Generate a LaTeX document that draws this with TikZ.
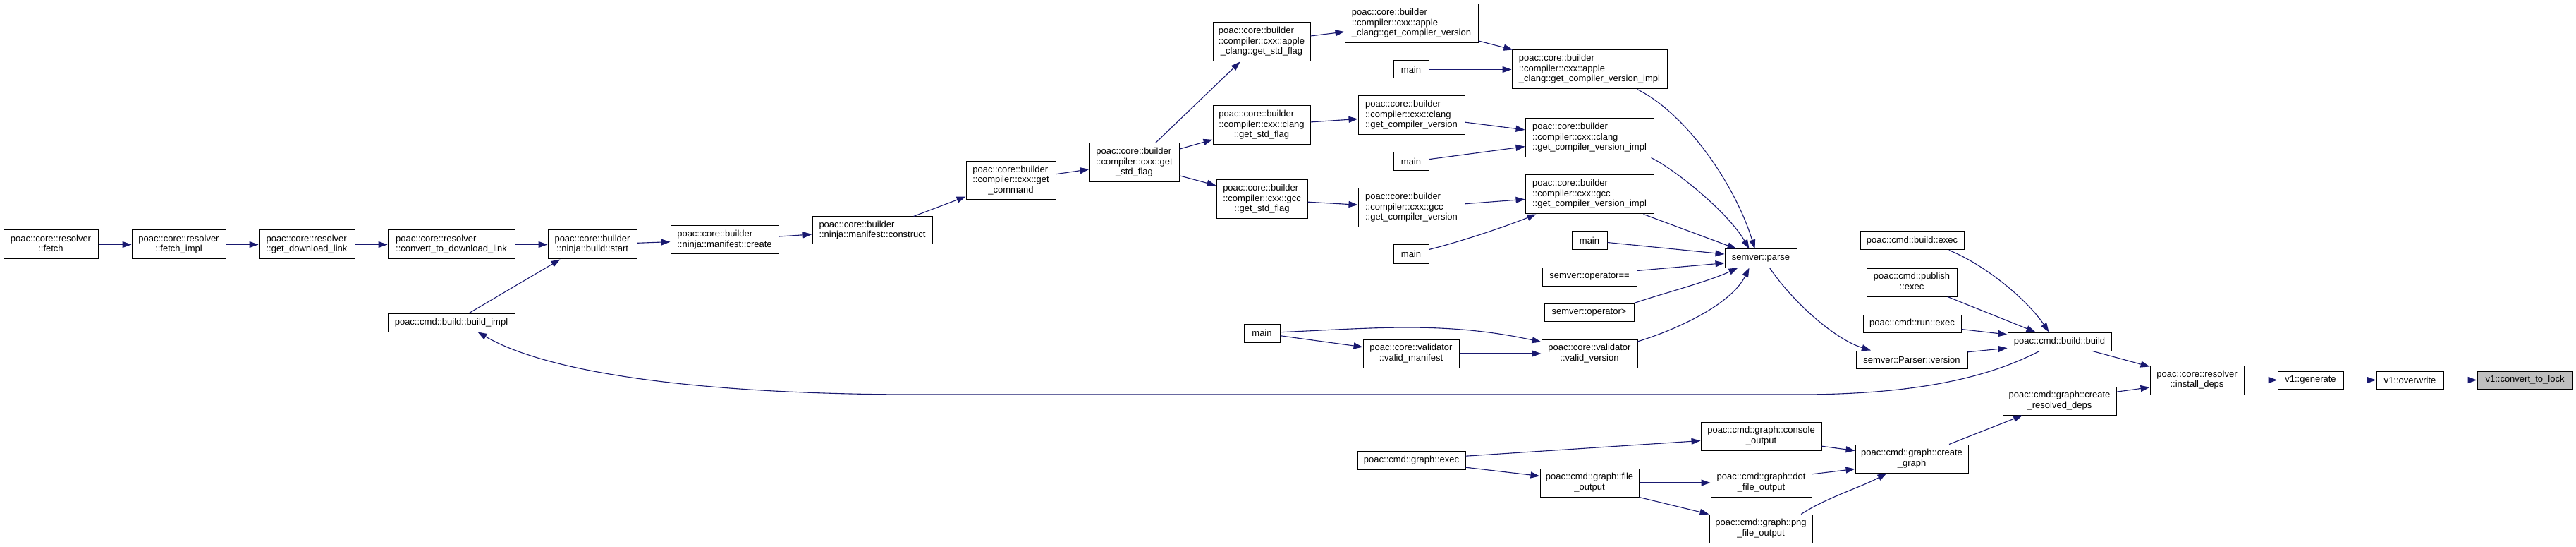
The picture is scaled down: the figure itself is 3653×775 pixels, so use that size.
\documentclass[tikz,border=0pt]{standalone}
\usepackage{fontspec}
\setmainfont{Liberation Sans}
\usetikzlibrary{arrows.meta,calc}
\definecolor{edgec}{HTML}{191970}
\definecolor{selfill}{HTML}{BFBFBF}
\newcommand\tl[2]{\begin{tabular}{@{}l@{}}#1\\\multicolumn{1}{@{}c@{}}{#2}\end{tabular}}
\newcommand\gnode[7][]{\node[gbox,#1,minimum width={(#5-#3)*1pt},minimum height={(#6-#4)*1pt}] (#2) at ({(#3+#5)/2},{(#4+#6)/2}) {#7};}
\tikzset{
  gbox/.style={draw=black,line width=1pt,fill=white,inner sep=0pt,text=black,font=\fontsize{13}{14.4}\selectfont},
  gedge/.style={draw=edgec,line width=1.1pt,-{Triangle[length=13pt,width=9pt]}},
}
\begin{document}
\begin{tikzpicture}[x=1pt,y=-1pt]
\fill[white] (0,0) rectangle (3653,775);
\useasboundingbox (0,0) rectangle (3653,775);
% nodes
\gnode{fetch}{5}{326}{139}{367}{\tl{poac::core::resolver}{::fetch}}
\gnode{fetchimpl}{187}{326}{320}{367}{\tl{poac::core::resolver}{::fetch\_impl}}
\gnode{getdl}{367}{326}{503}{367}{\tl{poac::core::resolver}{::get\_download\_link}}
\gnode{convdl}{550}{326}{730}{367}{\tl{poac::core::resolver}{::convert\_to\_download\_link}}
\gnode{bstart}{777}{326}{903}{367}{\tl{poac::core::builder}{::ninja::build::start}}
\gnode{mcreate}{951}{320}{1104}{360}{\tl{poac::core::builder}{::ninja::manifest::create}}
\gnode{mconstruct}{1152}{307}{1322}{346}{\tl{poac::core::builder}{::ninja::manifest::construct}}
\gnode{getcmd}{1370}{229}{1497}{283}{\tl{poac::core::builder\\::compiler::cxx::get}{\_command}}
\gnode{getstd}{1545}{203}{1672}{258}{\tl{poac::core::builder\\::compiler::cxx::get}{\_std\_flag}}
\gnode{agsf}{1720}{32}{1858}{87}{\tl{poac::core::builder\\::compiler::cxx::apple}{\_clang::get\_std\_flag}}
\gnode{cgsf}{1720}{150}{1858}{205}{\tl{poac::core::builder\\::compiler::cxx::clang}{::get\_std\_flag}}
\gnode{ggsf}{1725}{255}{1854}{310}{\tl{poac::core::builder\\::compiler::cxx::gcc}{::get\_std\_flag}}
\gnode{agcv}{1907}{6}{2096}{61}{\tl{poac::core::builder\\::compiler::cxx::apple}{\_clang::get\_compiler\_version}}
\gnode{cgcv}{1926}{136}{2077}{191}{\tl{poac::core::builder\\::compiler::cxx::clang}{::get\_compiler\_version}}
\gnode{ggcv}{1926}{267}{2077}{322}{\tl{poac::core::builder\\::compiler::cxx::gcc}{::get\_compiler\_version}}
\gnode{mainA}{1976}{86}{2026}{111}{main}
\gnode{mainB}{1976}{216}{2026}{242}{main}
\gnode{mainC}{1976}{347}{2026}{373}{main}
\gnode{aimpl}{2144}{71}{2364}{126}{\tl{poac::core::builder\\::compiler::cxx::apple}{\_clang::get\_compiler\_version\_impl}}
\gnode{cimpl}{2163}{168}{2345}{223}{\tl{poac::core::builder\\::compiler::cxx::clang}{::get\_compiler\_version\_impl}}
\gnode{gimpl}{2163}{248}{2345}{303}{\tl{poac::core::builder\\::compiler::cxx::gcc}{::get\_compiler\_version\_impl}}
\gnode{mainD}{2229}{328}{2279}{354}{main}
\gnode{opeq}{2187}{379}{2321}{405}{semver::operator==}
\gnode{opgt}{2190}{430}{2317}{455}{semver::operator>}
\gnode{parse}{2446}{353}{2548}{379}{semver::parse}
\gnode{mainE}{1764}{459}{1815}{485}{main}
\gnode{vman}{1933}{481}{2069}{521}{\tl{poac::core::validator}{::valid\_manifest}}
\gnode{vver}{2186}{481}{2322}{521}{\tl{poac::core::validator}{::valid\_version}}
\gnode{bimpl}{550}{444}{730}{470}{poac::cmd::build::build\_impl}
\gnode{bexec}{2638}{328}{2785}{354}{poac::cmd::build::exec}
\gnode{pexec}{2647}{380}{2775}{420}{\tl{poac::cmd::publish}{::exec}}
\gnode{rexec}{2642}{446}{2781}{471}{poac::cmd::run::exec}
\gnode{pver}{2632}{497}{2790}{522}{semver::Parser::version}
\gnode{bbuild}{2847}{471}{2994}{497}{poac::cmd::build::build}
\gnode{instdeps}{3049}{518}{3182}{559}{\tl{poac::core::resolver}{::install\_deps}}
\gnode{crdeps}{2840}{548}{3001}{588}{\tl{poac::cmd::graph::create}{\_resolved\_deps}}
\gnode{gen}{3230}{526}{3323}{551}{v1::generate}
\gnode{ovw}{3370}{526}{3465}{551}{v1::overwrite}
\gnode[fill=selfill]{ctl}{3513}{526}{3648}{551}{v1::convert\_to\_lock}
\gnode{gexec}{1925}{639}{2078}{665}{poac::cmd::graph::exec}
\gnode{fout}{2184}{664}{2324}{704}{\tl{poac::cmd::graph::file}{\_output}}
\gnode{cout}{2412}{598}{2583}{638}{\tl{poac::cmd::graph::console}{\_output}}
\gnode{dout}{2426}{664}{2569}{704}{\tl{poac::cmd::graph::dot}{\_file\_output}}
\gnode{pout}{2424}{729}{2570}{769}{\tl{poac::cmd::graph::png}{\_file\_output}}
\gnode{cgraph}{2631}{630}{2791}{670}{\tl{poac::cmd::graph::create}{\_graph}}
% edges
\draw[gedge] (fetch) -- (fetchimpl);
\draw[gedge] (fetchimpl) -- (getdl);
\draw[gedge] (getdl) -- (convdl);
\draw[gedge] (convdl) -- (bstart);
\draw[gedge] ($(bimpl.north west)+(116,0)$) -- ($(bstart.south west)+(18,0)$);
\draw[gedge] (bstart) -- (mcreate);
\draw[gedge] (mcreate) -- (mconstruct);
\draw[gedge] ($(mconstruct.north west)+(144,0)$) -- ($(getcmd.south west)+(0,-5)$);
\draw[gedge] (getcmd) -- (getstd);
\draw[gedge] ($(getstd.north west)+(94,0)$) -- ($(agsf.south west)+(39,0)$);
\draw[gedge] ($(getstd.north east)+(0,8.7)$) -- ($(cgsf.south west)+(0,-7.7)$);
\draw[gedge] ($(getstd.south east)+(0,-9.7)$) -- ($(ggsf.north west)+(0,8.3)$);
\draw[gedge] (agsf) -- (agcv);
\draw[gedge] (cgsf) -- (cgcv);
\draw[gedge] (ggsf) -- (ggcv);
\draw[gedge] (agcv) -- (aimpl);
\draw[gedge] (mainA) -- (aimpl);
\draw[gedge] (cgcv) -- (cimpl);
\draw[gedge] (mainB) -- (cimpl);
\draw[gedge] (ggcv) -- (gimpl);
\draw[gedge] ($(mainC.north east)+(0,7)$) .. controls (2066.6,343.5) and (2129,323.3) .. ($(gimpl.south west)+(16,0)$);
\draw[gedge] ($(aimpl.south west)+(178,0)$) .. controls (2390,160) and (2460,260) .. ($(parse.north west)+(43,0)$);
\draw[gedge] ($(cimpl.south west)+(179,0)$) .. controls (2375,240) and (2450,300) .. ($(parse.north west)+(35,0)$);
\draw[gedge] ($(gimpl.south west)+(168,0)$) -- ($(parse.north west)+(17,0)$);
\draw[gedge] ($(mainD.north east)+(0,16)$) -- ($(parse.west)+(0,-6)$);
\draw[gedge] ($(opeq.north east)+(0,5)$) -- ($(parse.west)+(0,6.7)$);
\draw[gedge] (opgt.north east) .. controls (2350,418) and (2420,400) .. ($(parse.south west)+(19,0)$);
\draw[gedge] ($(vver.north east)+(0,3.3)$) .. controls (2375,468) and (2455,432) .. ($(parse.south west)+(35,0)$);
\draw[gedge] ($(parse.south west)+(64,0)$) .. controls (2540,425) and (2600,480) .. ($(pver.north west)+(21.5,0)$);
\draw[gedge] ($(mainE.east)+(0,3.7)$) -- ($(vman.west)+(0,-9.3)$);
\draw[gedge] ($(mainE.east)+(0,-1.3)$) .. controls (1950,465) and (2050,455) .. ($(vver.north west)+(0,4)$);
\draw[gedge] (vman) -- (vver);
\draw[gedge] ($(bexec.south west)+(126.3,0)$) .. controls (2815,375) and (2875,425) .. ($(bbuild.north west)+(59,0)$);
\draw[gedge] ($(pexec.south west)+(115.4,0)$) -- ($(bbuild.north west)+(40,0)$);
\draw[gedge] ($(rexec.east)+(0,8)$) -- ($(bbuild.west)+(0,-10)$);
\draw[gedge] ($(pver.north east)+(0,2.3)$) -- ($(bbuild.south west)+(0,-4.3)$);
\draw[gedge] ($(bbuild.south west)+(45.5,0)$) .. controls (2810,540) and (2700,559) .. (2550,559) -- (1300,559) .. controls (1000,559) and (780,530) .. ($(bimpl.south west)+(128,0)$);
\draw[gedge] ($(bbuild.south west)+(121,0)$) -- ($(instdeps.north west)+(0,2)$);
\draw[gedge] ($(crdeps.north east)+(0,7.7)$) -- ($(instdeps.south west)+(0,-10.7)$);
\draw[gedge] (instdeps) -- (gen);
\draw[gedge] (gen) -- (ovw);
\draw[gedge] (ovw) -- (ctl);
\draw[gedge] ($(cgraph.north west)+(133.5,0)$) -- ($(crdeps.south west)+(28.6,0)$);
\draw[gedge] ($(gexec.north east)+(0,7.7)$) -- ($(cout.south west)+(0,-14)$);
\draw[gedge] ($(gexec.south east)+(0,-3.3)$) -- ($(fout.north west)+(0,11)$);
\draw[gedge] (fout) -- (dout);
\draw[gedge] (fout.south east) -- (pout.north west);
\draw[gedge] ($(cout.south east)+(0,-6.3)$) -- ($(cgraph.north west)+(0,9)$);
\draw[gedge] ($(dout.north east)+(0,8.3)$) -- ($(cgraph.south west)+(0,-6)$);
\draw[gedge] ($(pout.north west)+(130.6,0)$) .. controls (2590,705) and (2640,690) .. ($(cgraph.south west)+(45,0)$);
\end{tikzpicture}
\end{document}
